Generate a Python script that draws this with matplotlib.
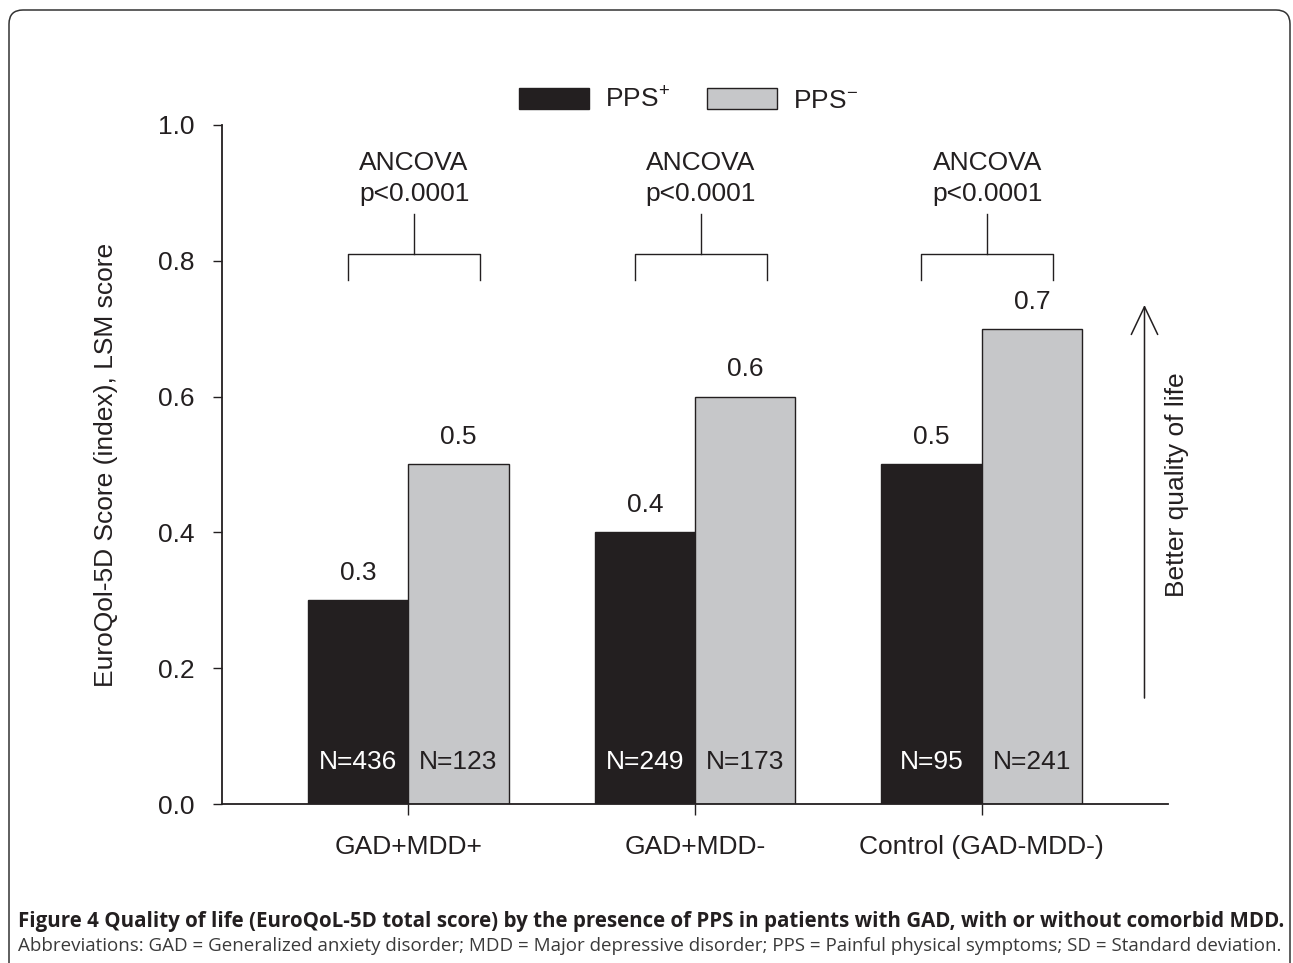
import numpy as np
import matplotlib
matplotlib.use("Agg")
import matplotlib.pyplot as plt
from matplotlib.patches import FancyBboxPatch
from matplotlib.transforms import IdentityTransform

plt.rcParams['font.family'] = ['Liberation Sans', 'DejaVu Sans']
plt.rcParams['mathtext.default'] = 'regular'

# data
groups = ['GAD+MDD+', 'GAD+MDD-', 'Control (GAD-MDD-)']
pps_pos = [0.3, 0.4, 0.5]
pps_neg = [0.5, 0.6, 0.7]
n_pos = [436, 249, 95]
n_neg = [123, 173, 241]
p_text = ['p<0.0001', 'p<0.0001', 'p<0.0001']
yticks = [0.0, 0.2, 0.4, 0.6, 0.8, 1.0]

ink = '#231f20'
grey = '#c6c7c9'
fs = 19

fig = plt.figure(figsize=(12.93, 9.63), dpi=100)
ax = fig.add_axes([222 / 1293, 1 - 804 / 963, 946 / 1293, 679 / 963])

x = np.arange(len(groups))
w = 0.35
ax.bar(x - w / 2, pps_pos, w, color=ink, edgecolor=ink, lw=1, label='PPS$^{+}$')
ax.bar(x + w / 2, pps_neg, w, color=grey, edgecolor=ink, lw=1, label='PPS$^{-}$')

for i in range(len(groups)):
    ax.text(x[i] - w / 2, pps_pos[i] + 0.04, f'{pps_pos[i]:.1f}', ha='center', va='center', fontsize=fs, color=ink)
    ax.text(x[i] + w / 2, pps_neg[i] + 0.04, f'{pps_neg[i]:.1f}', ha='center', va='center', fontsize=fs, color=ink)
    ax.text(x[i] - w / 2, 0.062, f'N={n_pos[i]}', ha='center', va='center', fontsize=fs, color='white')
    ax.text(x[i] + w / 2, 0.062, f'N={n_neg[i]}', ha='center', va='center', fontsize=fs, color=ink)

    # ANCOVA bracket
    c = x[i] + 0.02
    ax.plot([c - 0.23, c - 0.23, c + 0.23, c + 0.23], [0.772, 0.81, 0.81, 0.772], color=ink, lw=1)
    ax.plot([c, c], [0.81, 0.869], color=ink, lw=1)
    ax.text(c, 0.944, 'ANCOVA', ha='center', va='center', fontsize=fs, color=ink)
    ax.text(c, 0.898, p_text[i], ha='center', va='center', fontsize=fs, color=ink)

# better quality arrow
ax.annotate('', xy=(2.568, 0.735), xytext=(2.568, 0.156),
            arrowprops=dict(arrowstyle='->,head_length=2.0,head_width=0.95', mutation_scale=10,
                            color=ink, lw=1.1, shrinkA=0, shrinkB=0),
            annotation_clip=False)
ax.text(2.683, 0.47, 'Better quality of life', rotation=90, ha='center', va='center',
        fontsize=fs, color=ink, clip_on=False)

ax.set_xlim(-0.65, 2.65)
ax.set_ylim(0, 1.0)
ax.set_yticks(yticks)
ax.set_yticklabels([f'{v:.1f}' for v in yticks])
ax.set_xticks(x)
ax.set_xticklabels(groups)
ax.tick_params(axis='y', direction='out', length=6.5, width=1, pad=13, labelsize=fs, colors=ink)
ax.tick_params(axis='x', direction='out', length=8, width=1, pad=14, labelsize=fs, colors=ink)
for s in ['top', 'right']:
    ax.spines[s].set_visible(False)
for s in ['left', 'bottom']:
    ax.spines[s].set_linewidth(1.3)
    ax.spines[s].set_color(ink)
ax.set_ylabel('EuroQol-5D Score (index), LSM score', fontsize=fs, color=ink)
ax.yaxis.set_label_coords(-0.110, 0.5)

ax.legend(loc='center', bbox_to_anchor=(0.493, 1.037), ncol=2, frameon=False, fontsize=fs,
          handlelength=2.65, handleheight=0.85, handletextpad=0.6, columnspacing=1.4,
          labelcolor=ink)

# rounded frame and caption
fig.patches.append(FancyBboxPatch((9, -30), 1281, 983, boxstyle='round,pad=0,rounding_size=14',
                                  transform=IdentityTransform(), fill=False, edgecolor='#333333', lw=1.1))
fig.text(18 / 1293, 1 - 927 / 963, 'Figure 4 Quality of life (EuroQoL-5D total score) by the presence of PPS in patients with GAD, with or without comorbid MDD.',
         fontsize=14.8, fontweight='bold', family='Open Sans', color='#231f20', va='baseline')
fig.text(18 / 1293, 1 - 951 / 963, 'Abbreviations: GAD = Generalized anxiety disorder; MDD = Major depressive disorder; PPS = Painful physical symptoms; SD = Standard deviation.',
         fontsize=13.5, family='Open Sans', color='#3a3a3a', va='baseline')

fig.savefig('out.png', dpi=100)
